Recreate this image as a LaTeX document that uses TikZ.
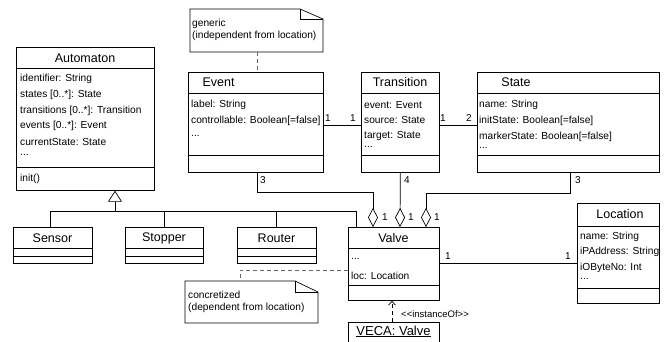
\documentclass[tikz,border=0pt]{standalone}
\usepackage{fontspec}
\setmainfont{Liberation Sans}
\usetikzlibrary{arrows.meta,calc}
\tikzset{
  box/.style={draw, line width=0.7pt, anchor=north west, inner sep=0pt, fill=white},
  sep/.style={line width=0.7pt},
  conn/.style={line width=0.7pt},
  attr/.style={font=\fontsize{10.2}{11}\selectfont, anchor=west, inner sep=0pt},
  ttl/.style={font=\fontsize{12.5}{14}\selectfont, inner sep=0pt},
  mult/.style={font=\fontsize{10}{11}\selectfont, inner sep=0pt},
  notetxt/.style={font=\fontsize{10.2}{11}\selectfont, anchor=west, inner sep=0pt},
  agg/.style={conn, -{Diamond[open, length=19pt, width=10pt, line width=0.7pt]}},
  gen/.style={conn, -{Triangle[open, length=11pt, width=14pt, line width=0.7pt]}},
  notelink/.style={conn, dashed, dash pattern=on 4pt off 3pt, gray!80!black}
}
\begin{document}
\begin{tikzpicture}[x=1pt,y=-1pt]
\useasboundingbox (0,0) rectangle (669,341);
\clip (0,0) rectangle (669,341);

% ---------- Automaton
\node[box, minimum width=138pt, minimum height=143pt] (automaton) at (16,47) {};
\draw[sep] (16,68) -- (154,68);
\draw[sep] (16,167) -- (154,167);
\node[ttl] (automatonT) at (85,58) {Automaton};
\node[attr] (a1) at (20,79) {identifier: String};
\node[attr] (a2) at (20,95) {states [0..*]: State};
\node[attr] (a3) at (20,111) {transitions [0..*]: Transition};
\node[attr] (a4) at (20,126) {events [0..*]: Event};
\node[attr] (a5) at (20,142) {currentState: State};
\node[attr] (a6) at (20,155) {...};
\node[attr] (a7) at (20,179) {init()};

% ---------- generic note
\draw[line width=0.7pt] (190,9) -- (300,9) -- (323,19) -- (323,52) -- (190,52) -- cycle;
\draw[line width=0.7pt] (300,9) -- (300,19) -- (323,19);
\node[inner sep=0pt, minimum width=133pt, minimum height=43pt, anchor=north west] (note1) at (190,9) {};
\node[notetxt] (n1a) at (192,24) {generic};
\node[notetxt] (n1b) at (192,36) {(independent from location)};

% ---------- Event
\node[box, minimum width=135pt, minimum height=100pt] (event) at (188,72) {};
\draw[sep] (188,93) -- (323,93);
\draw[sep] (188,155) -- (323,155);
\node[ttl] (eventT) at (218.5,82) {Event};
\node[attr] (e1) at (191,105) {label: String};
\node[attr] (e2) at (191,121) {controllable: Boolean[=false]};
\node[attr] (e3) at (191,136) {...};

% ---------- Transition
\node[box, minimum width=78pt, minimum height=100pt] (transition) at (361,72) {};
\draw[sep] (361,93) -- (439,93);
\draw[sep] (361,155) -- (439,155);
\node[ttl] (transitionT) at (400,82) {Transition};
\node[attr] (t1) at (364,105) {event: Event};
\node[attr] (t2) at (364,120) {source: State};
\node[attr] (t3) at (364,136) {target: State};
\node[attr] (t4) at (364,147) {...};

% ---------- State
\node[box, minimum width=182pt, minimum height=100pt] (state) at (477,72) {};
\draw[sep] (477,93) -- (659,93);
\draw[sep] (477,155) -- (659,155);
\node[ttl] (stateT) at (516,82) {State};
\node[attr] (s1) at (479,105) {name: String};
\node[attr] (s2) at (479,121) {initState: Boolean[=false]};
\node[attr] (s3) at (479,137) {markerState: Boolean[=false]};
\node[attr] (s4) at (479,148) {...};

% ---------- Subclasses
\node[box, minimum width=79pt, minimum height=36pt] (sensor) at (13,227) {};
\draw[sep] (13,248) -- (92,248); \draw[sep] (13,256) -- (92,256);
\node[ttl] (sensorT) at (52.5,238) {Sensor};
\node[box, minimum width=78pt, minimum height=36pt] (stopper) at (125,227) {};
\draw[sep] (125,248) -- (203,248); \draw[sep] (125,256) -- (203,256);
\node[ttl] (stopperT) at (164,238) {Stopper};
\node[box, minimum width=79pt, minimum height=36pt] (router) at (237,227) {};
\draw[sep] (237,248) -- (316,248); \draw[sep] (237,256) -- (316,256);
\node[ttl] (routerT) at (276.5,238) {Router};

% ---------- Valve
\node[box, minimum width=91pt, minimum height=73pt] (valve) at (348,227) {};
\draw[sep] (348,248) -- (439,248);
\draw[sep] (348,285) -- (439,285);
\node[ttl] (valveT) at (393.5,238) {Valve};
\node[attr] (v1) at (351,259) {...};
\node[attr] (v2) at (351,276) {loc: Location};

% ---------- Location
\node[box, minimum width=82pt, minimum height=100pt] (location) at (577,203) {};
\draw[sep] (577,226) -- (659,226);
\draw[sep] (577,288) -- (659,288);
\node[ttl] (locationT) at (620,214) {Location};
\node[attr] (l1) at (580,237) {name: String};
\node[attr] (l2) at (580,252) {iPAddress: String};
\node[attr] (l3) at (580,268) {iOByteNo: Int};
\node[attr] (l4) at (580,279) {...};

% ---------- concretized note
\draw[line width=0.7pt] (185,281) -- (295,281) -- (318,292) -- (318,323) -- (185,323) -- cycle;
\draw[line width=0.7pt] (295,281) -- (295,292) -- (318,292);
\node[inner sep=0pt, minimum width=133pt, minimum height=42pt, anchor=north west] (note2) at (185,281) {};
\node[notetxt] (n2a) at (188,295) {concretized};
\node[notetxt] (n2b) at (188,308) {(dependent from location)};

% ---------- VECA instance
\node[box, minimum width=91pt, minimum height=40pt] (veca) at (348,322) {};
\node[ttl, font=\fontsize{13}{15}\selectfont] (vecaT) at (393.5,331.5) {\underline{VECA: Valve}};

% ---------- connectors
% generalization
\coordinate (genj) at (115,211);
\draw[gen] (genj) -- (genj |- automaton.south);
\draw[conn] (sensor.north -| 50,0) |- (genj);
\draw[conn] (stopper.north) |- (genj);
\draw[conn] (router.north -| 276,0) |- (genj);
\draw[conn] (valve.north -| 356,0) |- (genj);

% associations
\draw[conn] (event.east |- 0,125) -- (transition.west |- 0,125);
\node[mult] (m1) at (328,118) {1};
\node[mult] (m2) at (353,118) {1};
\draw[conn] (transition.east |- 0,125) -- (state.west |- 0,125);
\node[mult] (m3) at (443,118) {1};
\node[mult] (m4) at (469,118) {2};

% aggregations
\coordinate (d1) at (373,227);
\coordinate (d2) at (400,227);
\coordinate (d3) at (426,227);
\draw[agg] (event.south -| 257,0) -- (257,192) -| (d1);
\draw[agg] (transition.south) -- (d2);
\draw[agg] (state.south -| 570,0) -- (570,193) -| (d3);
\node[mult] (m5) at (263,180) {3};
\node[mult] (m6) at (407,180) {4};
\node[mult] (m7) at (578,180) {3};
\node[mult] (m8) at (385,217) {1};
\node[mult] (m9) at (411,217) {1};
\node[mult] (m10) at (437,217) {1};

% valve - location
\draw[conn] (valve.east |- 0,263) -- (location.west |- 0,263);
\node[mult] (m11) at (448,256) {1};
\node[mult] (m12) at (568,256) {1};

% note links
\draw[notelink] (note1.south -| 257,0) -- (event.north -| 257,0);
\draw[notelink] (valve.west |- 0,270) -| (note2.north -| 240,0);

% instanceOf
\draw[conn, dashed, dash pattern=on 4pt off 3pt, -{Straight Barb[length=4pt, width=7pt]}] (veca.north -| 392,0) -- (valve.south -| 392,0);
\node[mult, anchor=west, font=\fontsize{9.5}{11}\selectfont] (inst) at (401,314) {<{}<instanceOf>{}>};
\end{tikzpicture}
\end{document}
